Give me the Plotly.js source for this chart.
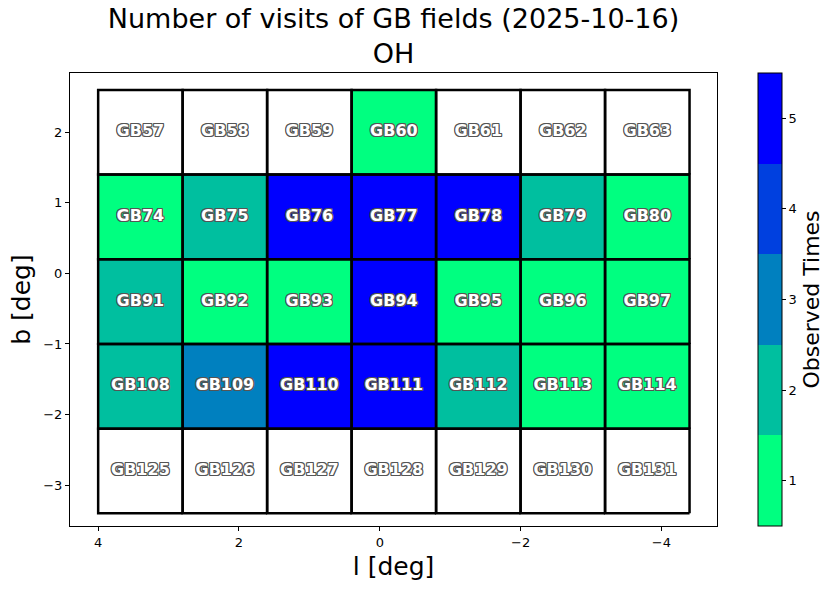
<!DOCTYPE html>
<html>
<head>
<meta charset="utf-8">
<script src="https://cdn.plot.ly/plotly-3.0.1.min.js"></script>
<style>html,body{margin:0;padding:0;background:#fff}#chart{width:835px;height:590px}</style>
</head>
<body>
<div id="chart"></div>
<script>
// Data
const lCenters = [3.4, 2.2, 1.0, -0.2, -1.4, -2.6, -3.8];
const bCenters = [2.0, 0.8, -0.4, -1.6, -2.8];
const fieldNames = [
  ["GB57","GB58","GB59","GB60","GB61","GB62","GB63"],
  ["GB74","GB75","GB76","GB77","GB78","GB79","GB80"],
  ["GB91","GB92","GB93","GB94","GB95","GB96","GB97"],
  ["GB108","GB109","GB110","GB111","GB112","GB113","GB114"],
  ["GB125","GB126","GB127","GB128","GB129","GB130","GB131"]
];
const visits = [
  [0,0,0,1,0,0,0],
  [1,2,5,5,5,2,1],
  [2,1,1,5,1,1,1],
  [2,3,5,5,2,1,1],
  [0,0,0,0,0,0,0]
];
const xTickVals = [4, 2, 0, -2, -4];
const xTickText = ["4", "2", "0", "\u22122", "\u22124"];
const yTickVals = [2, 1, 0, -1, -2, -3];
const yTickText = ["2", "1", "0", "\u22121", "\u22122", "\u22123"];
const cbTicks = [1, 2, 3, 4, 5];

// Style
const cellSize = 1.2;
const levelColors = ["#00ff80", "#00bf9f", "#0080bf", "#0040df", "#0000ff"];
const font = "DejaVu Sans, sans-serif";

const z = visits.map(r => r.map(v => v > 0 ? v : null));
const cs = [];
levelColors.forEach((c, i) => { cs.push([i / 5, c]); cs.push([(i + 1) / 5, c]); });

const bx = [], by = [], tx = [], ty = [], tt = [];
const h = cellSize / 2;
bCenters.forEach((b, r) => {
  lCenters.forEach((l, c) => {
    bx.push(l - h, l + h, l + h, l - h, l - h, null);
    by.push(b - h, b - h, b + h, b + h, b - h, null);
    tx.push(l); ty.push(b); tt.push(fieldNames[r][c]);
  });
});

const traces = [
  {
    type: "heatmap", x: lCenters, y: bCenters, z: z,
    zmin: 0.5, zmax: 5.5, colorscale: cs, hoverinfo: "skip",
    colorbar: {
      x: 1.0617, xanchor: "left", xpad: 0, y: 0.5, yanchor: "middle",
      len: 1, lenmode: "fraction", thickness: 24, thicknessmode: "pixels", ypad: 0,
      outlinewidth: 1, outlinecolor: "#000",
      tickvals: cbTicks, ticks: "outside", ticklen: 4, tickcolor: "#000",
      tickfont: {family: font, size: 13, color: "#000"},
      title: {text: "Observed Times", side: "right", font: {family: font, size: 22, color: "#000"}}
    }
  },
  {
    type: "scatter", mode: "lines", x: bx, y: by,
    line: {color: "#000", width: 2.5}, hoverinfo: "skip", showlegend: false
  },
  {
    type: "scatter", mode: "text", x: tx, y: ty, text: tt,
    textposition: "middle center", hoverinfo: "skip", showlegend: false,
    textfont: {
      family: font, size: 16, color: "#fff", weight: "bold",
      shadow: "-1px -1px 0 #555, 1px -1px 0 #555, -1px 1px 0 #555, 1px 1px 0 #555, 0 1px 0 #555, 0 -1px 0 #555, 1px 0 0 #555, -1px 0 0 #555"
    }
  }
];

const layout = {
  width: 835, height: 590,
  margin: {l: 70, r: 117, t: 73, b: 64},
  paper_bgcolor: "#fff", plot_bgcolor: "#fff",
  showlegend: false,
  font: {family: font, color: "#000"},
  title: {
    text: "Number of visits of GB fields (2025-10-16)<br>OH",
    font: {family: font, size: 27, color: "#000"},
    x: 0.5, xref: "paper", xanchor: "center",
    y: 0.952, yref: "container", yanchor: "top"
  },
  xaxis: {
    range: [4.4, -4.79], showgrid: false, zeroline: false,
    showline: true, mirror: true, linecolor: "#000", linewidth: 1,
    ticks: "outside", ticklen: 4, tickcolor: "#000",
    tickvals: xTickVals, ticktext: xTickText,
    tickfont: {family: font, size: 13, color: "#000"},
    title: {text: "l [deg]", font: {family: font, size: 25, color: "#000"}, standoff: 8}
  },
  yaxis: {
    range: [-3.58, 2.84], showgrid: false, zeroline: false,
    showline: true, mirror: true, linecolor: "#000", linewidth: 1,
    ticks: "outside", ticklen: 4, tickcolor: "#000",
    tickvals: yTickVals, ticktext: yTickText,
    tickfont: {family: font, size: 13, color: "#000"},
    title: {text: "b [deg]", font: {family: font, size: 25, color: "#000"}, standoff: 5}
  }
};

Plotly.newPlot("chart", traces, layout, {staticPlot: true, displayModeBar: false});
</script>
</body>
</html>
